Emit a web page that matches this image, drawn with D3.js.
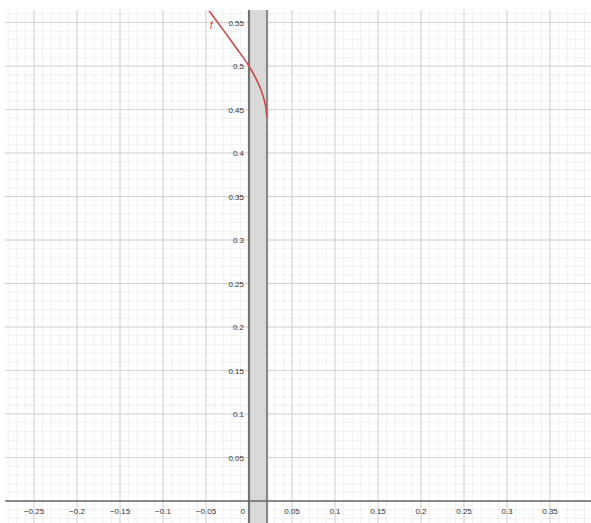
<!DOCTYPE html>
<html>
<head>
<meta charset="utf-8">
<script src="https://cdn.jsdelivr.net/npm/d3@7"></script>
<style>
  html, body { margin: 0; padding: 0; background: #fff; }
  svg { display: block; }
  text { font-family: "Liberation Sans", "DejaVu Sans", sans-serif; }
</style>
</head>
<body>
<svg id="chart" width="591" height="523"></svg>
<script>
// ---- data ----
const xTickValues = [-0.25, -0.2, -0.15, -0.1, -0.05, 0.05, 0.1, 0.15, 0.2, 0.25, 0.3, 0.35];
const xTickLabels = ["-0.25", "-0.2", "-0.15", "-0.1", "-0.05", "0.05", "0.1", "0.15", "0.2", "0.25", "0.3", "0.35"];
const yTickValues = [0.05, 0.1, 0.15, 0.2, 0.25, 0.3, 0.35, 0.4, 0.45, 0.5, 0.55];
const yTickLabels = ["0.05", "0.1", "0.15", "0.2", "0.25", "0.3", "0.35", "0.4", "0.45", "0.5", "0.55"];
const curveX = [-0.0465, -0.030, -0.015, 0.0, 0.0108, 0.0165, 0.0195, 0.0207];
const curveY = [0.5635, 0.5415, 0.521, 0.5, 0.480, 0.465, 0.453, 0.441];
const bandRange = [0, 0.021];
const curveName = "f";

// ---- layout ----
const svg = d3.select("#chart");
const pL = 5, pR = 591, pT = 10, pB = 523;
const x = d3.scaleLinear().domain([(pL - 249) / 860, (pR - 249) / 860]).range([pL, pR]);
const y = d3.scaleLinear().domain([(501 - pB) / 870, (501 - pT) / 870]).range([pB, pT]);

svg.append("defs").append("clipPath").attr("id", "clip")
  .append("rect").attr("x", pL).attr("y", pT).attr("width", pR - pL).attr("height", pB - pT);

const g = svg.append("g").attr("clip-path", "url(#clip)");

// minor grid
const minorX = d3.range(-28, 40).map(i => i / 100);
const minorY = d3.range(-3, 57).map(i => i / 100);
g.append("g").selectAll("line").data(minorX).join("line")
  .attr("x1", d => x(d)).attr("x2", d => x(d)).attr("y1", pT).attr("y2", pB)
  .attr("stroke", "#f0f0f0").attr("stroke-width", 1);
g.append("g").selectAll("line").data(minorY).join("line")
  .attr("y1", d => y(d)).attr("y2", d => y(d)).attr("x1", pL).attr("x2", pR)
  .attr("stroke", "#f0f0f0").attr("stroke-width", 1);

// major grid
g.append("g").selectAll("line").data(xTickValues).join("line")
  .attr("x1", d => x(d)).attr("x2", d => x(d)).attr("y1", pT).attr("y2", pB)
  .attr("stroke", "#d4d4d4").attr("stroke-width", 1);
g.append("g").selectAll("line").data(yTickValues).join("line")
  .attr("y1", d => y(d)).attr("y2", d => y(d)).attr("x1", pL).attr("x2", pR)
  .attr("stroke", "#d4d4d4").attr("stroke-width", 1);

// band
g.append("rect")
  .attr("x", x(bandRange[0])).attr("y", pT)
  .attr("width", x(bandRange[1]) - x(bandRange[0])).attr("height", pB - pT)
  .attr("fill", "#d9d9d9");
g.selectAll(".bandEdge").data(bandRange).join("line")
  .attr("x1", d => x(d)).attr("x2", d => x(d)).attr("y1", pT).attr("y2", pB)
  .attr("stroke", "#8a8a8a").attr("stroke-width", 2.2);

// axes
g.append("line").attr("x1", pL).attr("x2", pR).attr("y1", y(0)).attr("y2", y(0))
  .attr("stroke", "#666").attr("stroke-width", 1.3);
g.append("line").attr("x1", x(0)).attr("x2", x(0)).attr("y1", pT).attr("y2", pB)
  .attr("stroke", "#666").attr("stroke-width", 1.3);

// curve
const pts = curveX.map((d, i) => [d, curveY[i]]);
g.append("path").datum(pts)
  .attr("d", d3.line().x(d => x(d[0])).y(d => y(d[1])).curve(d3.curveCatmullRom.alpha(0.5)))
  .attr("fill", "none").attr("stroke", "#cc4b4b").attr("stroke-width", 1.6);

// labels
const lab = svg.append("g").attr("font-size", 8).attr("fill", "#333");
lab.selectAll(".xl").data(xTickValues).join("text")
  .attr("x", d => x(d)).attr("y", y(0) + 13).attr("text-anchor", "middle")
  .text((d, i) => xTickLabels[i].replace("-", "\u2212"));
lab.selectAll(".yl").data(yTickValues).join("text")
  .attr("x", x(0) - 5).attr("y", d => y(d) + 3).attr("text-anchor", "end")
  .text((d, i) => yTickLabels[i]);
lab.append("text").attr("x", x(0) - 4).attr("y", y(0) + 13).attr("text-anchor", "end").text("0");

svg.append("text").attr("x", x(-0.0455)).attr("y", y(0.543))
  .attr("font-size", 10).attr("fill", "#cc4b4b").attr("font-style", "italic").text(curveName);
</script>
</body>
</html>
